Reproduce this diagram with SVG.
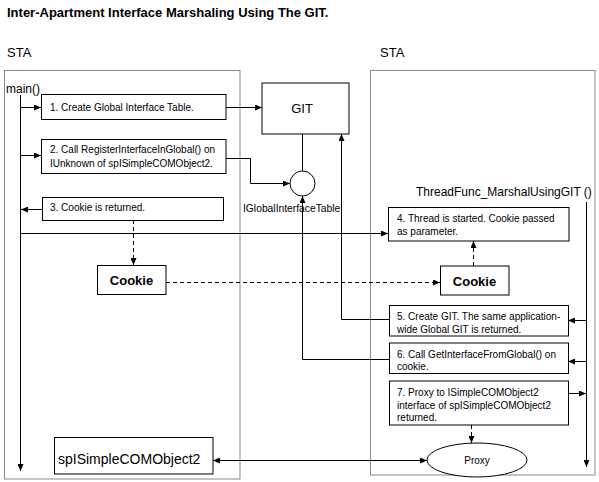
<svg xmlns="http://www.w3.org/2000/svg" width="599" height="482" viewBox="0 0 599 482">
<style>
.bg{fill:#fff}
.frame{fill:none;stroke:#888;stroke-width:1}
.box{fill:#fff;stroke:#000;stroke-width:1}
.ln{fill:none;stroke:#000;stroke-width:1}
.dash{fill:none;stroke:#000;stroke-width:1;stroke-dasharray:4 3}
.t{font-family:"Liberation Sans",Arial,sans-serif;font-size:10px;fill:#000}
.lbl{font-family:"Liberation Sans",Arial,sans-serif;fill:#000}
.b{font-weight:bold}
.arr{marker-end:url(#ah)}
</style>
<defs>
<marker id="ah" viewBox="0 0 7 6" refX="7" refY="3" markerWidth="7" markerHeight="6" markerUnits="userSpaceOnUse" orient="auto-start-reverse">
<path d="M0,0 L7,3 L0,6 z" fill="#000"/>
</marker>
</defs>
<rect class="bg" x="0" y="0" width="599" height="482"/>
<text class="lbl b" x="7" y="17" font-size="13">Inter-Apartment Interface Marshaling Using The GIT.</text>

<g id="sta-left">
<rect class="frame" x="4.5" y="70.5" width="235.5" height="408.5"/>
<text class="lbl" x="7" y="57" font-size="13">STA</text>
<text class="lbl" x="6" y="93" font-size="12">main()</text>
</g>
<g id="sta-right">
<rect class="frame" x="370.5" y="70.5" width="224.5" height="404.5"/>
<text class="lbl" x="380" y="57" font-size="13">STA</text>
<text class="lbl" x="416" y="196" font-size="12">ThreadFunc_MarshalUsingGIT ()</text>
</g>

<g id="connectors">
<path class="ln arr" d="M20.5,95 V471"/>
<path class="ln arr" d="M586.5,202 V467"/>
<path class="ln arr" d="M20.5,107.5 H41"/>
<path class="ln arr" d="M226,107.5 H262"/>
<path class="ln arr" d="M20.5,155.5 H41"/>
<path class="ln arr" d="M226,158.5 H250.5 V183.5 H290"/>
<path class="ln" d="M302.5,134 V171" stroke="#444"/>
<path class="ln arr" d="M42,209.5 H21"/>
<path class="dash arr" d="M133.5,220 V265"/>
<path class="ln arr" d="M20.5,233.5 H388"/>
<path class="dash arr" d="M166,282.5 H440"/>
<path class="dash arr" d="M473.5,266 V241"/>
<path class="ln arr" d="M586.5,320.5 H568"/>
<path class="ln arr" d="M389,319.5 H341.5 V134"/>
<path class="ln arr" d="M586.5,361.5 H568"/>
<path class="ln arr" d="M389,359.5 H302.5 V196"/>
<path class="ln arr" d="M568,393.5 H586"/>
<path class="dash arr" d="M471.5,425 V443"/>
<path class="ln arr" d="M427,460.5 H213" style="marker-start:url(#ah)"/>
</g>

<g id="git">
<rect class="box" x="262" y="83" width="87" height="51"/>
<text class="lbl" x="302" y="113" font-size="13" text-anchor="middle">GIT</text>
</g>
<g id="iglobalinterfacetable">
<circle class="box" cx="302.5" cy="183.5" r="12.5"/>
<text class="lbl" x="243" y="211.5" font-size="10.3">IGlobalInterfaceTable</text>
</g>
<g id="step1">
<rect class="box" x="41.5" y="94.5" width="184.5" height="25"/>
<text class="t" x="50" y="110.5">1. Create Global Interface Table.</text>
</g>
<g id="step2">
<rect class="box" x="41.5" y="139.5" width="184.5" height="34"/>
<text class="t" x="50" y="153" textLength="165" lengthAdjust="spacingAndGlyphs">2. Call RegisterInterfaceInGlobal() on</text>
<text class="t" x="50" y="167">IUnknown of spISimpleCOMObject2.</text>
</g>
<g id="step3">
<rect class="box" x="42.5" y="197.5" width="181" height="23"/>
<text class="t" x="50" y="211">3. Cookie is returned.</text>
</g>
<g id="cookie-left">
<rect class="box" x="97.5" y="265.5" width="68.5" height="29"/>
<text class="lbl b" x="131.5" y="285" font-size="13" text-anchor="middle">Cookie</text>
</g>
<g id="step4">
<rect class="box" x="388.5" y="207.5" width="180.5" height="33.5"/>
<text class="t" x="397" y="222">4. Thread is started. Cookie passed</text>
<text class="t" x="397" y="235">as parameter.</text>
</g>
<g id="cookie-right">
<rect class="box" x="440.5" y="266" width="68.5" height="29"/>
<text class="lbl b" x="474.5" y="285.5" font-size="13" text-anchor="middle">Cookie</text>
</g>
<g id="step5">
<rect class="box" x="389.5" y="305.5" width="179" height="30.5"/>
<text class="t" x="397" y="320">5. Create GIT. The same application-</text>
<text class="t" x="397" y="332.5">wide Global GIT is returned.</text>
</g>
<g id="step6">
<rect class="box" x="389.5" y="343" width="179" height="30.5"/>
<text class="t" x="397" y="357.5">6. Call GetInterfaceFromGlobal() on</text>
<text class="t" x="397" y="370">cookie.</text>
</g>
<g id="step7">
<rect class="box" x="389.5" y="381" width="179" height="44"/>
<text class="t" x="397" y="396">7. Proxy to ISimpleCOMObject2</text>
<text class="t" x="397" y="408.5">interface of spISimpleCOMObject2</text>
<text class="t" x="397" y="421">returned.</text>
</g>
<g id="proxy">
<ellipse class="box" cx="477" cy="460" rx="50" ry="17"/>
<text class="lbl" x="477" y="463.5" font-size="10" text-anchor="middle">Proxy</text>
</g>
<g id="spisimplecomobject2">
<rect class="box" x="54.5" y="437.5" width="158.5" height="36.5"/>
<text class="lbl" x="58" y="464" font-size="14">spISimpleCOMObject2</text>
</g>
</svg>
